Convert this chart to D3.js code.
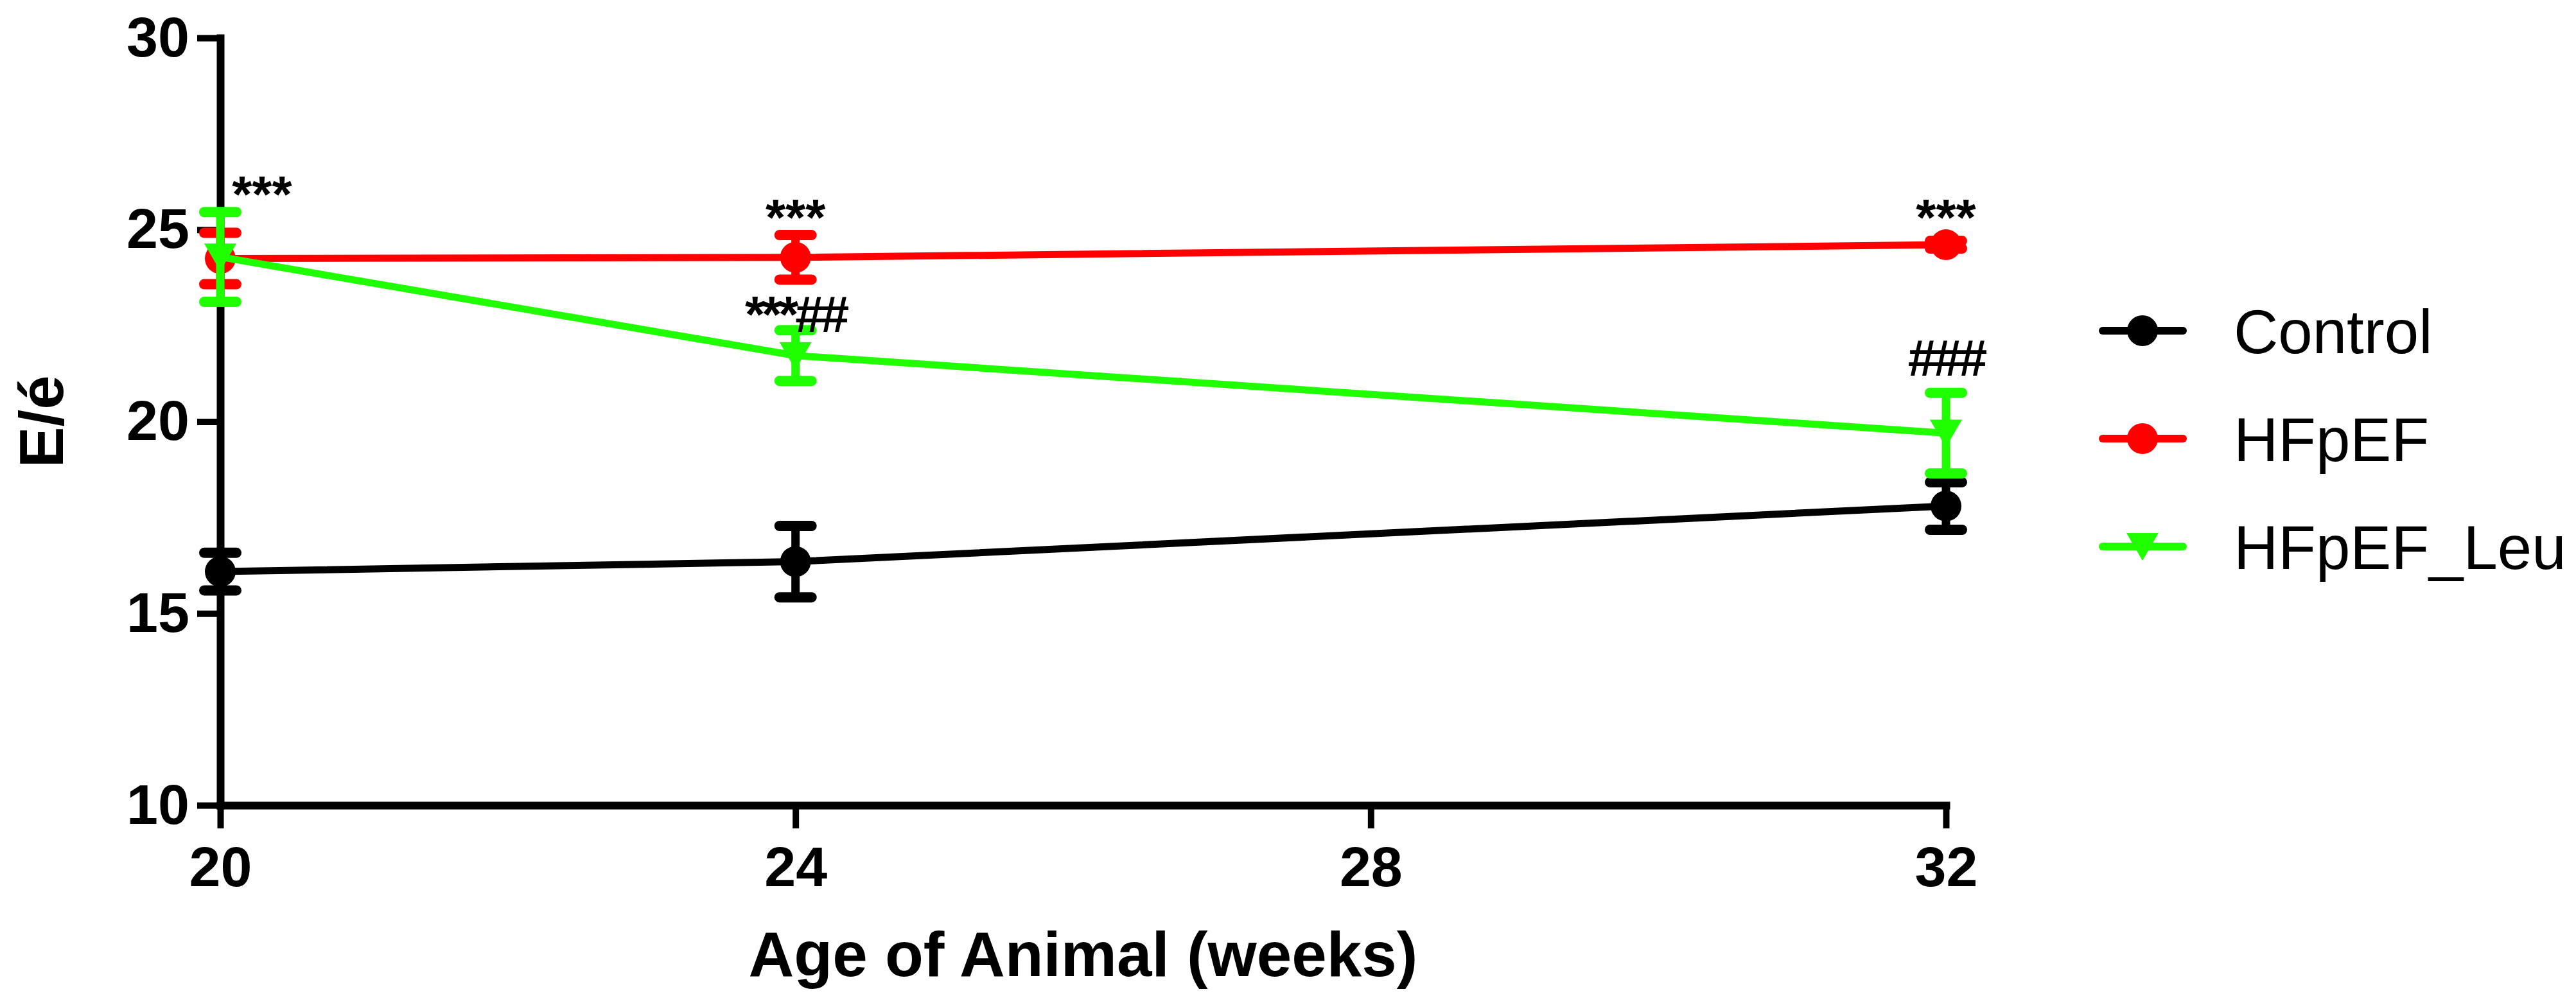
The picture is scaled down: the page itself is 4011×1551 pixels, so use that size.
<!DOCTYPE html>
<html>
<head>
<meta charset="utf-8">
<script src="https://cdn.jsdelivr.net/npm/d3@7"></script>
<style>
  body { margin: 0; background: #fff; }
  text { font-family: "Liberation Sans", Arial, sans-serif; }
</style>
</head>
<body>
<svg id="chart"></svg>
<script>
// data
const weeks = [20, 24, 32];
const seriesNames = ["Control", "HFpEF", "HFpEF_Leu"];
const controlMean = [16.09, 16.35, 17.8];
const controlErr = [0.49, 0.93, 0.62];
const hfpefMean = [24.25, 24.28, 24.61];
const hfpefErr = [0.67, 0.58, 0.1];
const leuMean = [24.29, 21.72, 19.7];
const leuErr = [1.17, 0.66, 1.05];
const xTicks = [20, 24, 28, 32];
const yTicks = [10, 15, 20, 25, 30];
// significance marks
const markWeeks = [20.29, 24, 24, 32, 32];
const markValues = [26.2, 25.6, 23.07, 25.6, 21.68];
const markTexts = ["***", "***", "***##", "***", "###"];

const colors = ["#000000", "#ff0000", "#1fff00"];
const means = [controlMean, hfpefMean, leuMean];
const errs = [controlErr, hfpefErr, leuErr];

const series = seriesNames.map((name, i) => ({
    name: name,
    color: colors[i],
    shape: i === 2 ? "triangle" : "circle",
    points: weeks.map((w, j) => ({ week: w, mean: means[i][j], err: errs[i][j] }))
}));

const svgWidth = 4011, svgHeight = 1551;
const svg = d3.select('#chart')
    .attr("width", svgWidth)
    .attr("height", svgHeight);

const x = d3.scaleLinear().domain([20, 32]).range([343, 3030]);
const y = d3.scaleLinear().domain([10, 30]).range([1254, 59]);

// axes
const yAxis = svg.append("g")
    .attr("transform", "translate(" + x(20) + ",0)")
    .call(d3.axisLeft(y).tickValues(yTicks).tickSize(36).tickSizeOuter(0).tickPadding(12));
const xAxis = svg.append("g")
    .attr("transform", "translate(0," + y(10) + ")")
    .call(d3.axisBottom(x).tickValues(xTicks).tickSize(36).tickSizeOuter(0).tickPadding(28));

[yAxis, xAxis].forEach(function (ax) {
    ax.select(".domain").attr("stroke", "#000").attr("stroke-width", 12).attr("stroke-linecap", "square");
    ax.selectAll(".tick line").attr("stroke", "#000").attr("stroke-width", 10);
    ax.selectAll(".tick text")
        .attr("fill", "#000")
        .style("font-family", "'Liberation Sans', Arial, sans-serif")
        .style("font-weight", "bold")
        .style("font-size", "88px");
});

// axis titles
svg.append("text")
    .attr("x", (x(20) + x(32)) / 2)
    .attr("y", 1520)
    .attr("text-anchor", "middle")
    .style("font-weight", "bold")
    .style("font-size", "98px")
    .text("Age of Animal (weeks)");

svg.append("text")
    .attr("transform", "translate(98," + y(20) + ") rotate(-90)")
    .attr("text-anchor", "middle")
    .style("font-weight", "bold")
    .style("font-size", "96px")
    .text("E/é");

// marker shapes
const circleR = 24;
const triPath = "M-25,-21L25,-21L0,22Z";

function drawMarker(g, shape, color) {
    if (shape === "circle") {
        g.append("circle").attr("r", circleR).attr("fill", color);
    } else {
        g.append("path").attr("d", triPath).attr("fill", color);
    }
}

const line = d3.line()
    .x(function (d) { return x(d.week); })
    .y(function (d) { return y(d.mean); });

series.forEach(function (s) {
    const g = svg.append("g");

    g.append("path")
        .datum(s.points)
        .attr("d", line)
        .attr("fill", "none")
        .attr("stroke", s.color)
        .attr("stroke-width", 11);

    const bars = g.selectAll(".err")
        .data(s.points)
        .enter()
        .append("g")
        .attr("class", "err");

    bars.append("line")
        .attr("x1", function (d) { return x(d.week); })
        .attr("x2", function (d) { return x(d.week); })
        .attr("y1", function (d) { return y(d.mean + d.err); })
        .attr("y2", function (d) { return y(d.mean - d.err); })
        .attr("stroke", s.color)
        .attr("stroke-width", 13);

    [1, -1].forEach(function (sign) {
        bars.append("line")
            .attr("x1", function (d) { return x(d.week) - 25; })
            .attr("x2", function (d) { return x(d.week) + 25; })
            .attr("y1", function (d) { return y(d.mean + sign * d.err); })
            .attr("y2", function (d) { return y(d.mean + sign * d.err); })
            .attr("stroke", s.color)
            .attr("stroke-width", 16)
            .attr("stroke-linecap", "round");
    });

    g.selectAll(".pt")
        .data(s.points)
        .enter()
        .append("g")
        .attr("class", "pt")
        .attr("transform", function (d) {
            return "translate(" + x(d.week) + "," + y(d.mean) + ")";
        })
        .each(function () { drawMarker(d3.select(this), s.shape, s.color); });
});

// significance marks
svg.selectAll(".mark")
    .data(markTexts)
    .enter()
    .append("text")
    .attr("class", "mark")
    .attr("x", function (d, i) { return x(markWeeks[i]); })
    .attr("y", function (d, i) { return y(markValues[i]); })
    .attr("dy", function (d) { return d.indexOf("#") === 0 ? "0.36em" : "0.55em"; })
    .attr("text-anchor", "middle")
    .style("font-weight", "bold")
    .style("font-size", "80px")
    .style("letter-spacing", function (d) { return d.indexOf("#") >= 0 ? "-5px" : "0px"; })
    .text(function (d) { return d; });

// legend
const legendRowY = [515, 683, 851];
const legend = svg.selectAll(".legend")
    .data(series)
    .enter()
    .append("g")
    .attr("class", "legend")
    .attr("transform", function (d, i) { return "translate(3336," + legendRowY[i] + ")"; });

legend.append("line")
    .attr("x1", -62).attr("x2", 63)
    .attr("stroke", function (d) { return d.color; })
    .attr("stroke-width", 12)
    .attr("stroke-linecap", "round");

legend.each(function (d) { drawMarker(d3.select(this), d.shape, d.color); });

legend.append("text")
    .attr("x", 142)
    .attr("dy", "0.36em")
    .style("font-size", "96px")
    .text(function (d) { return d.name; });
</script>
</body>
</html>
